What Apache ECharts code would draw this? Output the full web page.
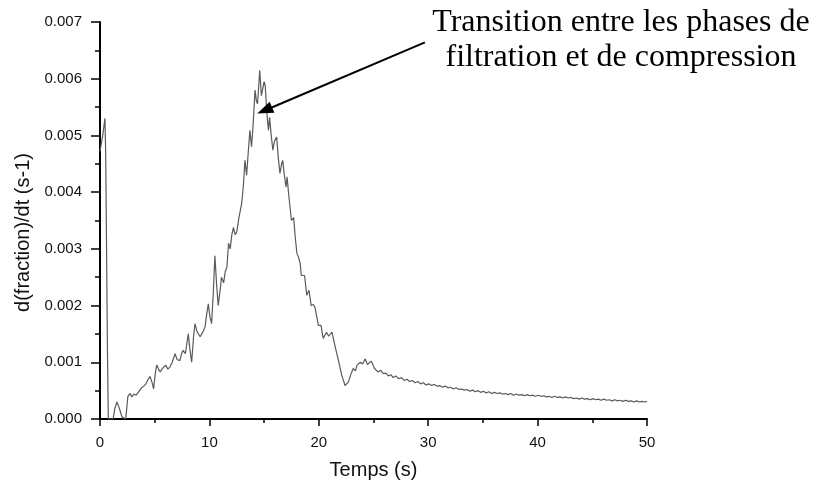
<!DOCTYPE html>
<html>
<head>
<meta charset="utf-8">
<script src="https://cdn.jsdelivr.net/npm/echarts@6/dist/echarts.min.js"></script>
<style>html,body{margin:0;padding:0;background:#fff}#c{width:816px;height:482px}</style>
</head>
<body>
<div id="c"></div>
<script>
// Time (s)
const times = [
0.00,0.10,0.25,0.45,0.52,0.60,0.68,0.76,1.20,1.35,1.55,1.75,2.00,2.35,2.55,2.75,2.90,3.10,3.30,3.50,
3.80,4.00,4.20,4.40,4.57,4.75,4.90,5.05,5.18,5.35,5.50,5.75,6.00,6.20,6.40,6.60,6.86,7.05,7.30,7.45,
7.60,7.80,8.07,8.20,8.38,8.55,8.68,8.85,9.00,9.15,9.30,9.45,9.60,9.75,9.90,10.05,10.20,10.35,10.50,10.65,
10.80,11.00,11.10,11.30,11.45,11.60,11.75,11.90,12.05,12.20,12.35,12.50,12.70,12.95,13.10,13.25,13.40,13.55,13.70,13.85,
14.00,14.17,14.30,14.40,14.50,14.60,14.75,14.90,15.00,15.10,15.25,15.40,15.50,15.65,15.80,15.95,16.15,16.30,16.45,16.60,
16.70,16.85,17.00,17.10,17.25,17.50,17.70,17.85,18.00,18.15,18.30,18.40,18.55,18.70,18.90,19.10,19.30,19.50,19.65,19.96,
20.20,20.40,20.70,20.90,21.20,21.50,21.80,22.10,22.40,22.70,22.95,23.15,23.35,23.50,23.65,23.80,24.00,24.25,24.45,24.60,
24.80,25.10,25.40,25.65,25.90,26.15,26.35,26.60,26.80,27.05,27.30,27.55,27.80,28.05,28.30,28.55,28.80,29.05,29.30,29.55,
29.80,30.05,30.30,30.55,30.80,31.05,31.30,31.55,31.80,32.05,32.30,32.55,32.80,33.05,33.30,33.55,33.80,34.05,34.30,34.55,
34.80,35.05,35.30,35.55,35.80,36.05,36.30,36.55,36.80,37.05,37.30,37.55,37.80,38.05,38.30,38.55,38.80,39.05,39.30,39.55,
39.80,40.05,40.30,40.55,40.80,41.05,41.30,41.55,41.80,42.05,42.30,42.55,42.80,43.05,43.30,43.55,43.80,44.05,44.30,44.55,
44.80,45.05,45.30,45.55,45.80,46.05,46.30,46.55,46.80,47.05,47.30,47.55,47.80,48.05,48.30,48.55,48.80,49.05,49.30,49.55,
49.80,50.00
];
// d(fraction)/dt in units of 1e-3 s-1
const rateMilli = [
4.72,4.75,5.00,5.30,4.70,3.00,1.20,0.00,0.00,0.18,0.30,0.20,0.04,0.00,0.40,0.45,0.39,0.44,0.42,0.47,
0.55,0.58,0.62,0.70,0.75,0.65,0.53,0.80,0.95,0.88,0.83,0.90,0.95,0.88,0.92,1.00,1.15,1.05,1.03,1.15,
1.21,1.15,1.50,1.25,1.00,1.45,1.68,1.55,1.50,1.45,1.42,1.55,1.62,1.85,2.03,1.80,1.68,2.20,2.88,2.40,
2.00,2.30,2.50,2.40,2.60,2.68,3.10,3.00,3.25,3.38,3.25,3.30,3.55,3.80,4.10,4.56,4.30,4.70,5.09,4.80,
5.20,5.80,5.60,5.56,5.85,6.15,5.70,5.68,5.95,5.88,5.40,5.09,5.32,5.00,4.74,4.90,4.97,4.60,4.33,4.50,
4.56,4.30,4.09,4.27,3.95,3.50,3.55,3.20,2.92,2.85,2.74,2.53,2.50,2.53,2.18,2.27,2.00,2.02,1.97,1.65,
1.65,1.42,1.53,1.46,1.53,1.27,1.03,0.77,0.59,0.65,0.80,0.89,0.85,0.95,0.92,1.00,0.97,1.06,0.96,0.98,
1.02,0.89,0.83,0.86,0.80,0.81,0.76,0.78,0.73,0.76,0.71,0.73,0.68,0.70,0.66,0.68,0.64,0.66,0.62,0.64,
0.60,0.62,0.59,0.61,0.58,0.59,0.56,0.58,0.55,0.56,0.53,0.55,0.52,0.53,0.51,0.52,0.49,0.51,0.48,0.50,
0.47,0.49,0.46,0.48,0.45,0.47,0.45,0.46,0.44,0.45,0.43,0.45,0.42,0.44,0.42,0.43,0.41,0.43,0.41,0.42,
0.40,0.42,0.40,0.41,0.39,0.40,0.38,0.40,0.38,0.39,0.37,0.39,0.37,0.38,0.36,0.37,0.35,0.37,0.35,0.36,
0.34,0.36,0.34,0.35,0.33,0.35,0.33,0.34,0.32,0.34,0.32,0.33,0.31,0.33,0.31,0.32,0.30,0.32,0.30,0.31,
0.30,0.31
];
const yTickLabels = ['0.000','0.001','0.002','0.003','0.004','0.005','0.006','0.007'];
const xTickLabels = ['0','10','20','30','40','50'];
const annotationLines = ['Transition entre les phases de', 'filtration et de compression'];
// arrow in data coordinates: head centre, tail
const arrowHead = [15.05, 5.44];
const arrowTail = [29.7, 6.64];

const seriesData = times.map((t, i) => [t, rateMilli[i]]);

const chart = echarts.init(document.getElementById('c'), null, {renderer: 'canvas'});
const axisFont = {fontFamily: 'Liberation Sans, Arial, sans-serif', color: '#111'};
chart.setOption({
  animation: false,
  backgroundColor: '#fff',
  grid: {left: 100, right: 169, top: 22, bottom: 63, containLabel: false, outerBoundsMode: 'none'},
  xAxis: {
    type: 'value', min: 0, max: 50, interval: 10,
    name: 'Temps (s)', nameLocation: 'middle', nameGap: 41,
    nameTextStyle: Object.assign({fontSize: 20}, axisFont),
    axisLine: {show: true, onZero: false, lineStyle: {color: '#000', width: 2}},
    axisTick: {show: true, inside: false, length: 7, lineStyle: {color: '#000', width: 1.5}},
    minorTick: {show: true, splitNumber: 2, length: 4, lineStyle: {color: '#000', width: 1.5}},
    splitLine: {show: false},
    axisLabel: Object.assign({fontSize: 15, margin: 16, formatter: v => xTickLabels[Math.round(v / 10)]}, axisFont)
  },
  yAxis: {
    type: 'value', min: 0, max: 7, interval: 1,
    name: 'd(fraction)/dt (s-1)', nameLocation: 'middle', nameGap: 66,
    nameTextStyle: Object.assign({fontSize: 20, padding: [0, 24, 0, 0]}, axisFont),
    axisLine: {show: true, onZero: false, lineStyle: {color: '#000', width: 2}},
    axisTick: {show: true, inside: false, length: 9, lineStyle: {color: '#000', width: 1.5}},
    minorTick: {show: true, splitNumber: 2, length: 5, lineStyle: {color: '#000', width: 1.5}},
    splitLine: {show: false},
    axisLabel: Object.assign({fontSize: 15, margin: 18, formatter: v => yTickLabels[Math.round(v)]}, axisFont)
  },
  series: [{
    type: 'line',
    data: seriesData,
    showSymbol: false,
    symbol: 'none',
    clip: true,
    lineStyle: {color: '#5a5a5a', width: 1.2},
    markLine: {
      silent: true,
      symbol: ['triangle', 'none'],
      symbolSize: [12, 16],
      lineStyle: {color: '#000', width: 2, type: 'solid'},
      label: {show: false},
      data: [[{coord: arrowHead}, {coord: arrowTail}]]
    }
  }],
  graphic: annotationLines.map((s, i) => ({
    type: 'text',
    x: 621, y: 23 + i * 35,
    style: {
      text: s,
      textAlign: 'center',
      textVerticalAlign: 'middle',
      font: '32px "Liberation Serif", "Times New Roman", serif',
      fill: '#000'
    }
  }))
});
</script>
</body>
</html>
